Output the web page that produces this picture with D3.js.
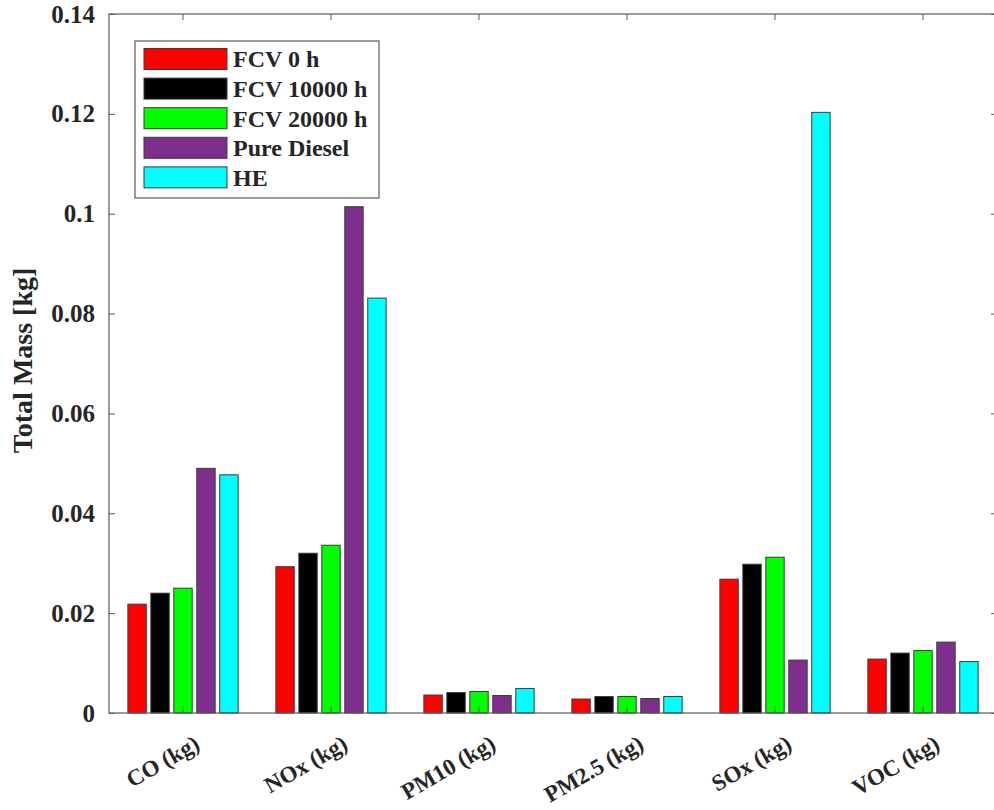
<!DOCTYPE html>
<html>
<head>
<meta charset="utf-8">
<script src="https://cdn.jsdelivr.net/npm/d3@7"></script>
<style>
  body { margin: 0; background: #fff; }
  svg text { font-family: "Liberation Serif", "Times New Roman", serif; font-weight: bold; fill: #262626; }
</style>
</head>
<body>
<div id="chart"></div>
<script>
const categories = ['CO (kg)', 'NOx (kg)', 'PM10 (kg)', 'PM2.5 (kg)', 'SOx (kg)', 'VOC (kg)'];
const seriesNames = ['FCV 0 h', 'FCV 10000 h', 'FCV 20000 h', 'Pure Diesel', 'HE'];
const seriesColors = ['#ff0000', '#000000', '#00ff00', '#7e2f8e', '#00ffff'];
const fcv0     = [0.0218, 0.0293, 0.0036, 0.0028, 0.0268, 0.0108];
const fcv10000 = [0.0240, 0.0320, 0.0041, 0.0033, 0.0298, 0.0120];
const fcv20000 = [0.0250, 0.0336, 0.0043, 0.0033, 0.0312, 0.0125];
const diesel   = [0.0490, 0.1014, 0.0035, 0.0029, 0.0106, 0.0142];
const he       = [0.0477, 0.0831, 0.0049, 0.0033, 0.1203, 0.0103];
const yTicks = [0, 0.02, 0.04, 0.06, 0.08, 0.1, 0.12, 0.14];

const series = [fcv0, fcv10000, fcv20000, diesel, he];

const W = 994, H = 810;
const m = { top: 14, right: -3, bottom: 97, left: 109 };
const width = W - m.left - m.right;
const height = H - m.top - m.bottom;

const svg = d3.select('#chart').append('svg')
  .attr('width', W).attr('height', H);
const g = svg.append('g').attr('transform', `translate(${m.left},${m.top})`);

const x = d3.scaleBand().domain(categories).range([0, width]);
const y = d3.scaleLinear().domain([0, 0.14]).range([height, 0]);
const groupW = x.bandwidth() * 0.745;
const xs = d3.scaleBand().domain(d3.range(series.length))
  .range([-groupW / 2, groupW / 2]).paddingInner(0.2).paddingOuter(0);

// Bars
series.forEach((vals, si) => {
  g.selectAll(`.bar-${si}`)
    .data(vals).enter().append('rect')
    .attr('x', (d, i) => x(categories[i]) + x.bandwidth() / 2 + xs(si))
    .attr('y', d => y(d))
    .attr('width', xs.bandwidth())
    .attr('height', d => height - y(d))
    .attr('fill', seriesColors[si])
    .attr('stroke', '#3a3a3a')
    .attr('stroke-width', 1);
});

const axisColor = '#5a5a5a';
const tickLen = 6;

// Box
g.append('rect').attr('x', 0).attr('y', 0).attr('width', width).attr('height', height)
  .attr('fill', 'none').attr('stroke', axisColor).attr('stroke-width', 1.2);

// Left axis
const yAxis = g.append('g')
  .call(d3.axisLeft(y).tickValues(yTicks).tickSize(-tickLen).tickPadding(14)
    .tickFormat(d => d === 0 ? '0' : String(+d.toFixed(2))));
yAxis.select('.domain').remove();
yAxis.selectAll('line').attr('stroke', axisColor);
yAxis.selectAll('text').style('font-size', '25px').attr('fill', '#262626');

// Right ticks
g.append('g').attr('transform', `translate(${width},0)`)
  .call(d3.axisRight(y).tickValues(yTicks).tickSize(-tickLen).tickFormat(''))
  .call(s => s.select('.domain').remove())
  .selectAll('line').attr('stroke', axisColor);

// Bottom axis
const xAxis = g.append('g').attr('transform', `translate(0,${height})`)
  .call(d3.axisBottom(x).tickSize(-tickLen));
xAxis.select('.domain').remove();
xAxis.selectAll('line').attr('stroke', axisColor);
xAxis.selectAll('text')
  .style('font-size', '23px')
  .attr('text-anchor', 'end')
  .attr('x', 0).attr('y', 0)
  .attr('dy', '0.71em')
  .attr('transform', 'translate(10,21) rotate(-30)');

// Top ticks
g.append('g')
  .call(d3.axisTop(x).tickSize(-tickLen).tickFormat(''))
  .call(s => s.select('.domain').remove())
  .selectAll('line').attr('stroke', axisColor);

// Y label
svg.append('text')
  .attr('transform', `translate(32,${m.top + height / 2 - 3}) rotate(-90)`)
  .attr('text-anchor', 'middle')
  .style('font-size', '28px')
  .text('Total Mass [kg]');

// Legend
const lg = svg.append('g').attr('transform', 'translate(135,41)');
lg.append('rect').attr('width', 244).attr('height', 157)
  .attr('fill', '#fff').attr('stroke', axisColor).attr('stroke-width', 1.2);
seriesNames.forEach((name, i) => {
  const row = lg.append('g').attr('transform', `translate(0,${18 + i * 29.6})`);
  row.append('rect').attr('x', 9).attr('y', -10.5).attr('width', 83).attr('height', 21)
    .attr('fill', seriesColors[i]).attr('stroke', '#3a3a3a').attr('stroke-width', 1);
  row.append('text').attr('x', 98).attr('y', 0).attr('dy', '0.35em')
    .style('font-size', '24px').text(name);
});
</script>
</body>
</html>
